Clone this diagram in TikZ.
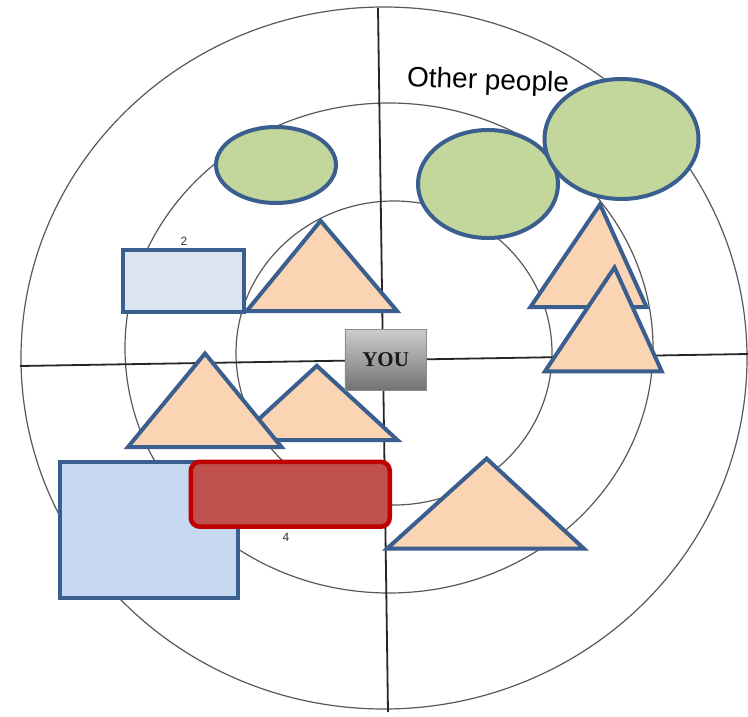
\documentclass[tikz,border=0pt]{standalone}
\usepackage{fontspec}
\newfontfamily\handfont{Liberation Sans}
\newfontfamily\youfont{Liberation Serif}
\definecolor{blueline}{HTML}{3A5F8E}
\definecolor{greenfill}{HTML}{C3D69B}
\definecolor{peach}{HTML}{FBD4B4}
\definecolor{paleblue}{HTML}{DBE5F1}
\definecolor{lightblue}{HTML}{C6D9F1}
\definecolor{redfill}{HTML}{C0504D}
\definecolor{redline}{HTML}{C00000}
\tikzset{
  ring/.style={draw=black!65, line width=1.2pt},
  axisline/.style={draw=black!85, line width=1.8pt},
  bshape/.style={draw=blueline, line width=4pt, line join=miter},
  greenshape/.style={bshape, fill=greenfill},
  triangleshape/.style={bshape, fill=peach},
  redbox/.style={draw=redline, fill=redfill, line width=4.5pt, rounded corners=9pt},
  youbox/.style={draw=black!45, line width=0.8pt, top color=black!20, bottom color=black!55},
  smallmark/.style={text=black!80, font=\handfont\fontsize{12}{12}\selectfont}
}
\begin{document}
\begin{tikzpicture}[x=1pt,y=-1pt]
\useasboundingbox (0,0) rectangle (748,717);
\fill[white] (0,0) rectangle (748,717);
% rings
\draw[ring] (384,358) ellipse [x radius=363, y radius=351];
\draw[ring] (389,348) ellipse [x radius=264, y radius=245];
\draw[ring] (394,353) ellipse [x radius=158, y radius=152];
% axes
\coordinate (vt) at (378,8);
\coordinate (vb) at (388,712);
\coordinate (hl) at (20,366);
\coordinate (hr) at (748,354);
\draw[axisline] (vt) -- (vb);
\draw[axisline] (hl) -- (hr);
% texts
\node[rotate=-2, font=\handfont\fontsize{28}{28}\selectfont, inner sep=0pt] (other) at (488,82) {Other people};
\node[smallmark] (two) at (184,241) {2};
\node[smallmark] (four) at (286,537) {4};
% ellipses
\draw[greenshape] (276,165) ellipse [x radius=60, y radius=38];
\draw[greenshape] (488,184) ellipse [x radius=70, y radius=54];
\draw[greenshape] (621.5,139) ellipse [x radius=77, y radius=60];
% pale rectangle
\draw[bshape, fill=paleblue] (122.6,250) rectangle (243.8,312);
% triangles
\draw[triangleshape] (320.6,220.8) -- (397,311) -- (246.7,311) -- cycle;
\draw[triangleshape] (600,204.4) -- (646.5,307) -- (530.5,307) -- cycle;
\draw[triangleshape] (614.5,267.5) -- (661.7,371.3) -- (545,371.3) -- cycle;
\draw[triangleshape] (316.8,365.8) -- (397.4,440) -- (236.2,440) -- cycle;
\draw[triangleshape] (205,353.5) -- (281.5,447) -- (128,447) -- cycle;
% big blue rectangle and red rounded rectangle
\draw[bshape, fill=lightblue] (59.6,461.8) rectangle (237.6,597.6);
\draw[redbox] (190.8,461.8) rectangle (389.8,526.7);
% bottom triangle
\draw[triangleshape] (486.6,458.6) -- (584,548.7) -- (387,548.7) -- cycle;
% YOU box
\node[youbox, minimum width=81.5pt, minimum height=60.6pt, inner sep=0pt, anchor=north west,
      font=\youfont\bfseries\fontsize{21}{21}\selectfont, text=black!90] (you) at (344.5,329) {YOU};
\end{tikzpicture}
\end{document}
